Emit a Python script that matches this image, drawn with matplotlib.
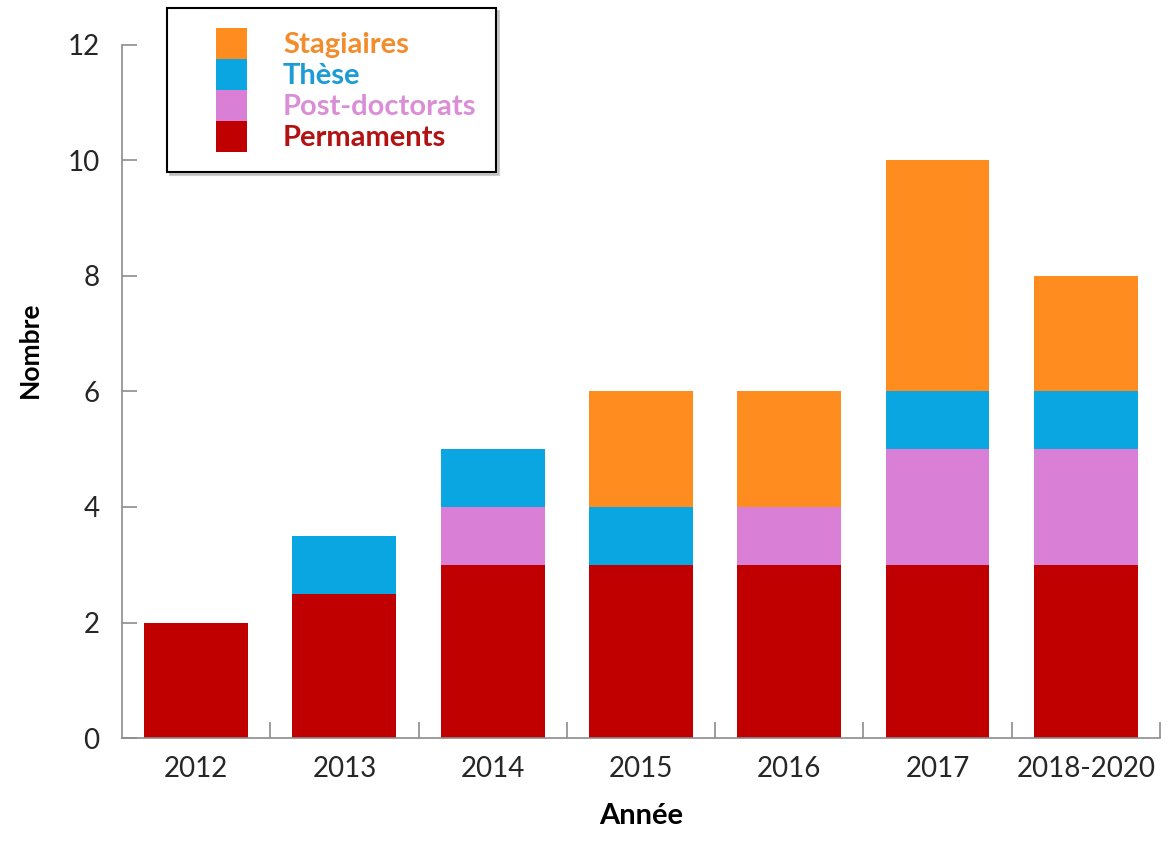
import numpy as np
import matplotlib.pyplot as plt
from matplotlib.patches import Rectangle
from matplotlib.legend_handler import HandlerPatch

plt.rcParams['font.family'] = ['Lato', 'DejaVu Sans']

# Données
annees = ['2012', '2013', '2014', '2015', '2016', '2017', '2018-2020']
permaments = [2, 2.5, 3, 3, 3, 3, 3]
post_doctorats = [0, 0, 1, 0, 1, 2, 2]
these = [0, 1, 1, 1, 0, 1, 1]
stagiaires = [0, 0, 0, 2, 2, 4, 2]

couleurs = {
    'Permaments': '#C00000',
    'Post-doctorats': '#D97FD6',
    'Thèse': '#0AA6E2',
    'Stagiaires': '#FF8C1F',
}
couleurs_texte = {
    'Permaments': '#B31212',
    'Post-doctorats': '#D98ED6',
    'Thèse': '#1D9BD4',
    'Stagiaires': '#F28C2C',
}

fig = plt.figure(figsize=(11.67, 8.42), dpi=100)
ax = fig.add_axes([0.1045, 0.1235, 0.8895, 0.8231])

x = np.arange(len(annees))
largeur = 0.7
bas = np.zeros(len(annees))
barres = {}
for nom, vals in [('Permaments', permaments), ('Post-doctorats', post_doctorats),
                  ('Thèse', these), ('Stagiaires', stagiaires)]:
    barres[nom] = ax.bar(x, vals, largeur, bottom=bas, color=couleurs[nom], linewidth=0)
    bas = bas + np.array(vals)

ax.set_xlim(-0.5, len(annees) - 0.5)
ax.set_ylim(0, 12)
ax.set_yticks(range(0, 13, 2))
ax.set_xticks(x)
ax.set_xticklabels(annees)
ax.set_xticks(np.arange(0.5, len(annees), 1), minor=True)

for s in ['top', 'right']:
    ax.spines[s].set_visible(False)
for s in ['left', 'bottom']:
    ax.spines[s].set_color('#8c8c8c')
    ax.spines[s].set_linewidth(1.2)

ax.tick_params(axis='y', direction='in', length=11, width=1.2, color='#8c8c8c',
               labelsize=20, labelcolor='#262626', pad=16)
ax.tick_params(axis='x', which='major', length=0, labelsize=20, labelcolor='#262626', pad=13)
ax.tick_params(axis='x', which='minor', direction='in', length=11.5, width=1.2, color='#8c8c8c')

ax.set_xlabel('Année', fontsize=21, fontweight='bold', labelpad=15)
ax.set_ylabel('Nombre', fontsize=19, fontweight='bold')
ax.yaxis.set_label_coords(-0.077, 0.56)


# Carré de légende calé à droite dans sa case
def carre_legende(legend, orig_handle, xdescent, ydescent, width, height, fontsize):
    return Rectangle((width - height - xdescent, -ydescent), height, height)


ordre = ['Stagiaires', 'Thèse', 'Post-doctorats', 'Permaments']
fs = 21
px = fs * 100 / 72
leg = fig.legend([barres[n].patches[0] for n in ordre], ordre, loc='upper left',
                 bbox_to_anchor=(0.143, 0.9905), borderaxespad=0,
                 prop={'weight': 'bold', 'size': fs},
                 labelcolor=[couleurs_texte[n] for n in ordre],
                 handlelength=60 / px, handleheight=1.257, labelspacing=0,
                 handletextpad=36 / px, borderpad=20 / px, fancybox=False,
                 edgecolor='black', framealpha=1,
                 shadow={'color': '#b0b0b0', 'alpha': 0.6, 'ox': 2, 'oy': -2},
                 handler_map={Rectangle: HandlerPatch(patch_func=carre_legende)})
leg.get_frame().set_linewidth(1.5)

fig.savefig('out.png', dpi=100, facecolor='white')
